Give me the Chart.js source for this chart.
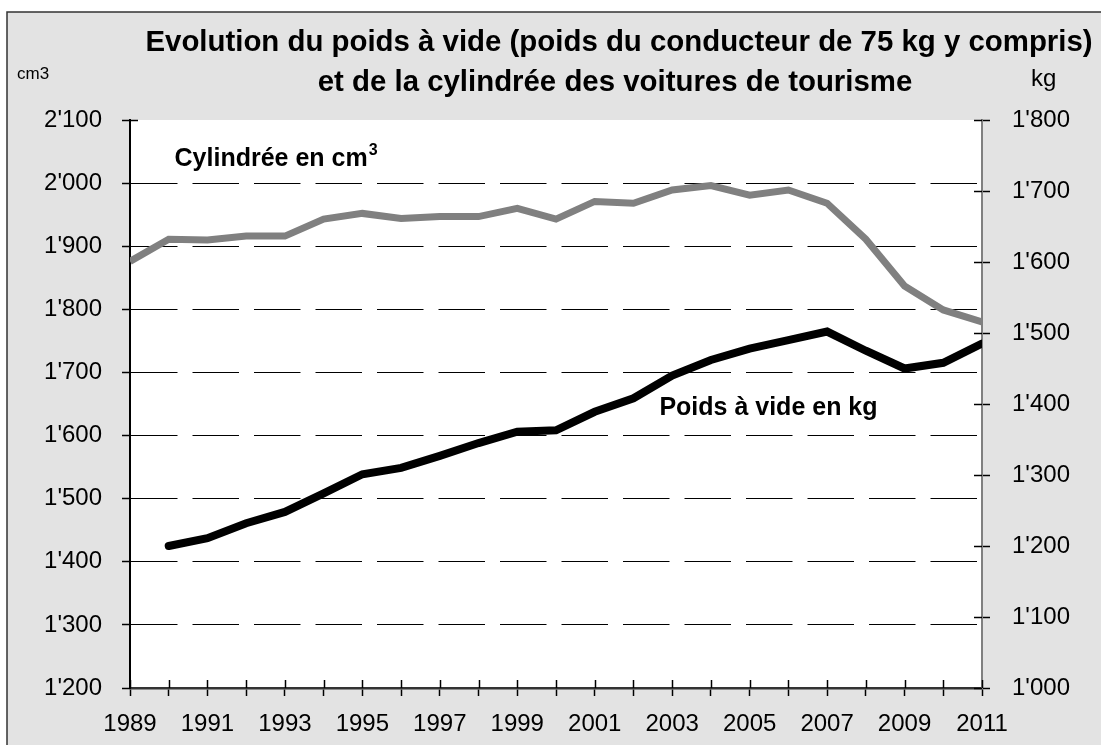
<!DOCTYPE html>
<html>
<head>
<meta charset="utf-8">
<script src="https://cdn.jsdelivr.net/npm/chart.js@4.4.0/dist/chart.umd.min.js"></script>
<style>
html, body { margin: 0; padding: 0; background: #fff; }
canvas { display: block; }
</style>
</head>
<body>
<canvas id="myChart" width="1101" height="745"></canvas>
<script>
const years = [1989, 1990, 1991, 1992, 1993, 1994, 1995, 1996, 1997, 1998, 1999, 2000,
               2001, 2002, 2003, 2004, 2005, 2006, 2007, 2008, 2009, 2010, 2011]
const cylindree = [1876, 1911, 1910, 1916, 1916, 1943, 1952, 1944, 1947, 1947, 1960, 1943,
                   1971, 1968, 1989, 1996, 1981, 1989, 1968, 1911, 1837, 1799, 1780]
const poidsYears = [1990, 1991, 1992, 1993, 1994, 1995, 1996, 1997, 1998, 1999, 2000,
                    2001, 2002, 2003, 2004, 2005, 2006, 2007, 2008, 2009, 2010, 2011]
const poids = [1200, 1211, 1232, 1248, 1274, 1301, 1310, 1327, 1345, 1361, 1363,
               1389, 1408, 1440, 1462, 1478, 1490, 1502, 1475, 1450, 1458, 1485]
const yearLabels = [1989, 1991, 1993, 1995, 1997, 1999, 2001, 2003, 2005, 2007, 2009, 2011]
const leftTicks = [1200, 1300, 1400, 1500, 1600, 1700, 1800, 1900, 2000, 2100]
const rightTicks = [1000, 1100, 1200, 1300, 1400, 1500, 1600, 1700, 1800]

const titleLines = ['Evolution du poids à vide (poids du conducteur de 75 kg y compris)',
                    'et de la cylindrée des voitures de tourisme']
const fam = '"Liberation Sans", Arial, sans-serif'

const fmt = v => String(v).replace(/\B(?=(\d{3})+(?!\d))/g, "'")

// gray frame, white plot area, inner half of the tick marks, texts
const decor = {
    id: 'decor',
    beforeDraw(chart) {
        const {ctx, chartArea: a} = chart
        ctx.save()
        ctx.fillStyle = '#fff'
        ctx.fillRect(0, 0, chart.width, chart.height)
        ctx.fillStyle = '#e3e3e3'
        ctx.fillRect(7, 12, chart.width - 7, chart.height - 12)
        ctx.strokeStyle = '#333'
        ctx.lineWidth = 1.5
        ctx.beginPath()
        ctx.moveTo(7, chart.height)
        ctx.lineTo(7, 12)
        ctx.lineTo(chart.width, 12)
        ctx.stroke()
        ctx.fillStyle = '#fff'
        ctx.fillRect(a.left, a.top, a.right - a.left, a.bottom - a.top)
        ctx.restore()
    },
    afterDraw(chart) {
        const {ctx, chartArea: a, scales} = chart
        ctx.save()
        ctx.lineWidth = 1.5
        ctx.strokeStyle = '#000'
        scales.x.ticks.forEach(t => {
            const x = Math.round(scales.x.getPixelForValue(t.value)) + 0.5
            ctx.beginPath(); ctx.moveTo(x, a.bottom - 8); ctx.lineTo(x, a.bottom); ctx.stroke()
        })
        scales.yR.ticks.forEach(t => {
            const y = Math.round(scales.yR.getPixelForValue(t.value)) + 0.5
            ctx.beginPath(); ctx.moveTo(a.right - 8, y); ctx.lineTo(a.right, y); ctx.stroke()
        })
        const yTop = Math.round(scales.yL.getPixelForValue(2100)) + 0.5
        ctx.beginPath(); ctx.moveTo(a.left, yTop); ctx.lineTo(a.left + 8, yTop); ctx.stroke()

        ctx.fillStyle = '#000'
        ctx.textAlign = 'center'
        ctx.textBaseline = 'alphabetic'
        ctx.font = `bold 29.4px ${fam}`
        ctx.fillText(titleLines[0], 619, 51)
        ctx.fillText(titleLines[1], 615, 91)
        ctx.textAlign = 'left'
        ctx.font = `17px ${fam}`
        ctx.fillText('cm3', 17, 79)
        ctx.font = `24px ${fam}`
        ctx.fillText('kg', 1031, 86)

        ctx.font = `bold 25px ${fam}`
        const cx = scales.x.getPixelForValue(1990.15)
        const cy = scales.yL.getPixelForValue(2027)
        const txt = 'Cylindrée en cm'
        ctx.fillText(txt, cx, cy)
        const w = ctx.measureText(txt).width
        ctx.font = `bold 16px ${fam}`
        ctx.fillText('3', cx + w + 1, cy - 11)
        ctx.font = `bold 25px ${fam}`
        ctx.fillText('Poids à vide en kg', scales.x.getPixelForValue(2002.67), scales.yR.getPixelForValue(1385))
        ctx.restore()
    }
}

const ctx = document.getElementById('myChart')
new Chart(ctx, {
    type: 'line',
    data: {
        datasets: [
            {
                label: 'Cylindrée en cm3',
                data: years.map((y, i) => ({x: y, y: cylindree[i]})),
                yAxisID: 'yL',
                borderColor: '#808080',
                borderWidth: 7,
                borderJoinStyle: 'miter',
                pointRadius: 0,
                tension: 0
            },
            {
                label: 'Poids à vide en kg',
                data: poidsYears.map((y, i) => ({x: y, y: poids[i]})),
                yAxisID: 'yR',
                borderColor: '#000',
                borderWidth: 8,
                borderCapStyle: 'round',
                borderJoinStyle: 'miter',
                pointRadius: 0,
                tension: 0
            }
        ]
    },
    options: {
        responsive: false,
        animation: false,
        layout: { padding: { left: 7, right: 0, top: 120, bottom: 0 } },
        plugins: { legend: { display: false }, tooltip: { enabled: false }, title: { display: false } },
        font: { family: fam },
        scales: {
            x: {
                type: 'linear',
                min: 1989,
                max: 2011,
                afterFit: s => { s.height = 57 },
                afterBuildTicks: s => { s.ticks = years.map(v => ({value: v})) },
                ticks: {
                    autoSkip: false,
                    maxRotation: 0,
                    padding: 14,
                    color: '#000',
                    font: { family: fam, size: 24 },
                    callback: v => yearLabels.includes(v) ? String(v) : ''
                },
                grid: { drawOnChartArea: false, tickLength: 8, tickColor: '#000', tickWidth: 1.5 },
                border: { color: '#333', width: 2.5 }
            },
            yL: {
                position: 'left',
                min: 1200,
                max: 2100,
                afterFit: s => { s.width = 123 },
                afterBuildTicks: s => { s.ticks = leftTicks.map(v => ({value: v})) },
                ticks: {
                    padding: 20,
                    color: '#000',
                    font: { family: fam, size: 24 },
                    callback: v => fmt(v)
                },
                grid: {
                    color: c => (c.tick && (c.tick.value === 1200 || c.tick.value === 2100)) ? 'rgba(0,0,0,0)' : '#000',
                    lineWidth: 1,
                    tickLength: 8,
                    tickColor: '#000',
                    tickWidth: 1.5
                },
                border: { color: '#000', width: 2, dash: [46.5, 15] }
            },
            yR: {
                position: 'right',
                min: 1000,
                max: 1800,
                afterFit: s => { s.width = 119 },
                afterBuildTicks: s => { s.ticks = rightTicks.map(v => ({value: v})) },
                ticks: {
                    padding: 22,
                    color: '#000',
                    font: { family: fam, size: 24 },
                    callback: v => fmt(v)
                },
                grid: { drawOnChartArea: false, tickLength: 8, tickColor: '#000', tickWidth: 1.5 },
                border: { color: '#808080', width: 2 }
            }
        }
    },
    plugins: [decor]
})
</script>
</body>
</html>
